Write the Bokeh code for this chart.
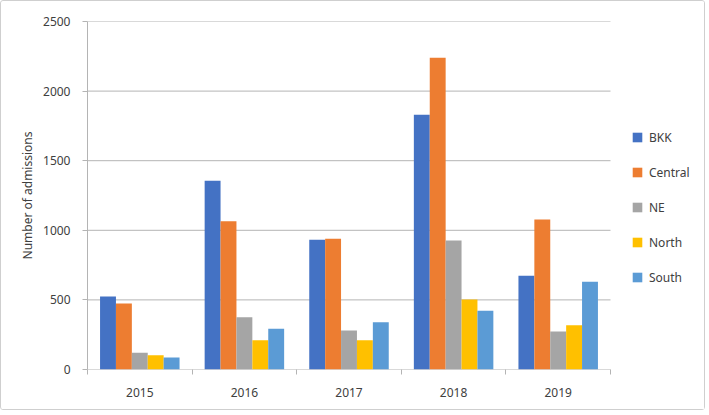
from bokeh.plotting import figure
from bokeh.models import Range1d, FixedTicker, Legend, LegendItem, ColumnDataSource
from bokeh.transform import dodge
from bokeh.embed import file_html
from bokeh.resources import INLINE

years = ["2015", "2016", "2017", "2018", "2019"]
regions = ["BKK", "Central", "NE", "North", "South"]
bkk = [524, 1356, 932, 1830, 673]
central = [474, 1065, 939, 2239, 1078]
ne = [120, 376, 280, 927, 273]
north = [103, 211, 211, 503, 318]
south = [86, 292, 340, 422, 630]
colors = ["#4472C4", "#ED7D31", "#A5A5A5", "#FFC000", "#5B9BD5"]
series = [bkk, central, ne, north, south]
y_ticks = [0, 500, 1000, 1500, 2000, 2500]

FONT = "Noto Sans"
TXT = "#404040"
GRID = "#b4b4b4"

n = len(years)
xc = [i + 0.5 for i in range(n)]
data = {"x": xc}
for name, vals in zip(regions, series):
    data[name] = vals
src = ColumnDataSource(data)

W, H = 705, 410
LEFT, TOP, BOTTOM = 86, 20, 42
frame_w = W - LEFT
cat_px = 104.6
x_end = frame_w / cat_px  # frame extends under the legend area

p = figure(width=W, height=H, output_backend="svg", toolbar_location=None,
           x_range=Range1d(0, x_end), y_range=Range1d(0, 2500))
p.styles = {"border": "1px solid #cfcfcf", "border-radius": "3px"}
p.min_border_left = LEFT
p.min_border_top = TOP
p.min_border_right = 0
p.min_border_bottom = BOTTOM
p.outline_line_color = None
p.background_fill_color = "white"
p.border_fill_color = "white"

# gridlines limited to the category area
p.segment(x0=[0] * len(y_ticks), x1=[n] * len(y_ticks), y0=y_ticks, y1=y_ticks,
          line_color=GRID, line_width=1)

step = 0.152
renderers = []
for k, (name, col) in enumerate(zip(regions, colors)):
    r = p.vbar(x=dodge("x", (k - 2) * step, range=p.x_range), top=name, width=0.152,
               bottom=0, source=src, fill_color=col, line_color=None)
    renderers.append(r)

# axes
xa = p.xaxis[0]
xa.ticker = FixedTicker(ticks=xc, minor_ticks=list(range(n + 1)))
xa.major_label_overrides = {x: y for x, y in zip(xc, years)}
xa.major_tick_line_color = None
xa.major_tick_out = 0
xa.major_tick_in = 0
xa.minor_tick_line_color = GRID
xa.minor_tick_out = 5
xa.minor_tick_in = 0
xa.axis_line_color = None
xa.major_label_text_font = FONT
xa.major_label_text_font_size = "12px"
xa.major_label_text_color = TXT
xa.major_label_standoff = 13

ya = p.yaxis[0]
ya.ticker = FixedTicker(ticks=y_ticks, minor_ticks=[])
ya.axis_line_color = GRID
ya.major_tick_line_color = GRID
ya.major_tick_out = 5
ya.major_tick_in = 0
ya.minor_tick_line_color = None
ya.major_label_text_font = FONT
ya.major_label_text_font_size = "12px"
ya.major_label_text_color = TXT
ya.major_label_standoff = 12
ya.axis_label = "Number of admissions"
ya.axis_label_text_font = FONT
ya.axis_label_text_font_size = "12px"
ya.axis_label_text_font_style = "normal"
ya.axis_label_text_color = TXT
ya.axis_label_standoff = 4

p.xgrid.grid_line_color = None
p.ygrid.grid_line_color = None

legend = Legend(items=[LegendItem(label=nm, renderers=[r]) for nm, r in zip(regions, renderers)],
                location=(544, 82))
legend.border_line_color = None
legend.background_fill_alpha = 0
legend.padding = 0
legend.margin = 0
legend.glyph_width = 12
legend.glyph_height = 12
legend.label_standoff = 6
legend.label_height = 20
legend.spacing = 15
legend.label_text_font = FONT
legend.label_text_font_size = "12px"
legend.label_text_color = TXT
p.add_layout(legend, "center")

open("out.html", "w").write(file_html(p, INLINE))
